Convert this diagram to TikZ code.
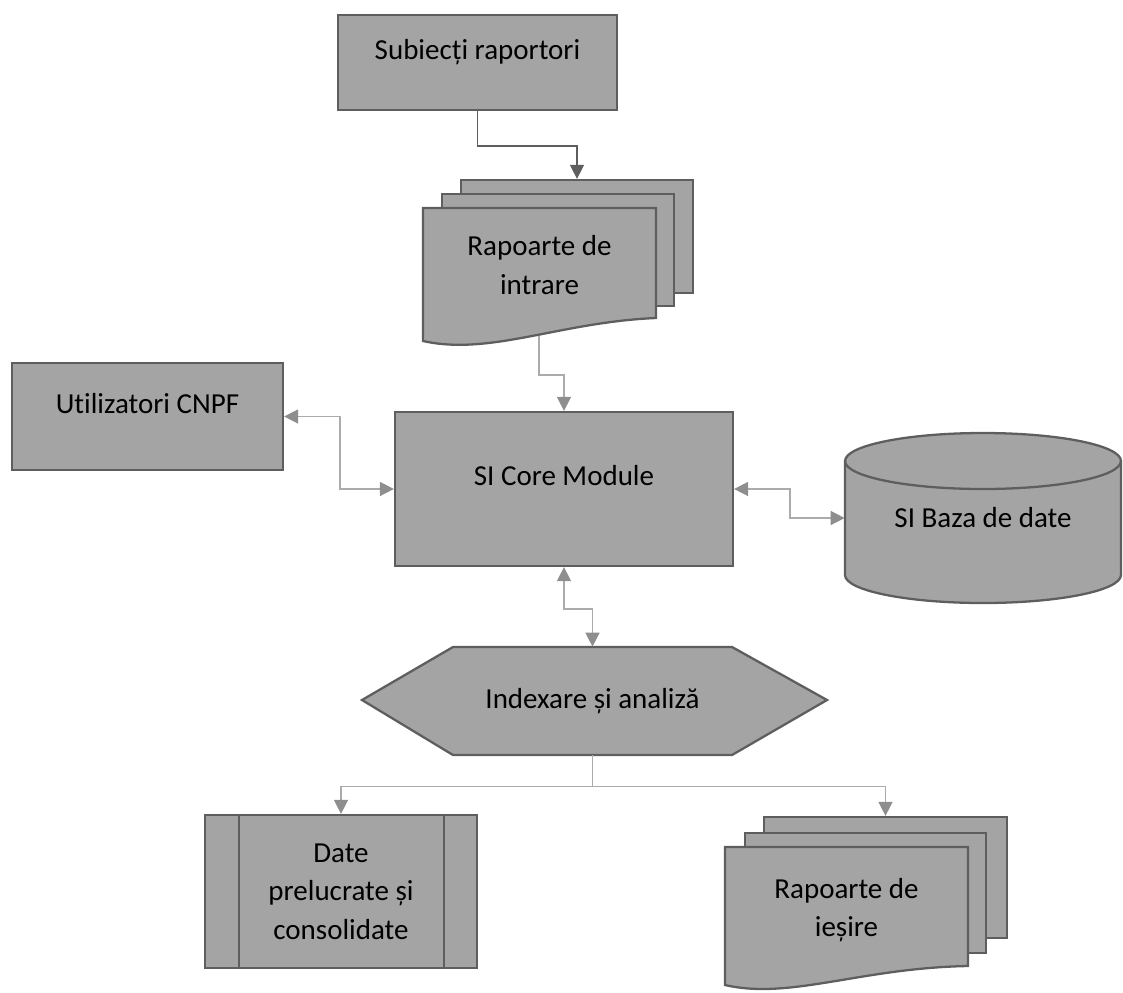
\documentclass[tikz,border=0pt]{standalone}
\usepackage{fontspec}
\setmainfont{Carlito}[Ligatures=NoCommon]
\usetikzlibrary{arrows.meta}
\definecolor{boxfill}{HTML}{A4A4A4}
\definecolor{boxline}{HTML}{5E5E5E}
\definecolor{linegray}{HTML}{ABABAB}
\definecolor{tipgray}{HTML}{8E8E8E}

\begin{document}
\begin{tikzpicture}[x=0.02cm,y=-0.02cm,
	main node/.style={draw=boxline,fill=boxfill,line width=1.3pt,inner sep=0pt,align=center,font=\fontsize{16.5}{22}\selectfont},
	text node/.style={inner sep=0pt,align=center,font=\fontsize{16.5}{22}\selectfont},
	doc page/.style={draw=boxline,fill=boxfill,line width=1.3pt,inner sep=0pt},
	doc shape/.style={draw=boxline,fill=boxfill,line width=1.3pt},
	link/.style={draw=linegray,line width=0.8pt,-{Triangle[length=8pt,width=8pt,color=tipgray]}},
	link both/.style={draw=linegray,line width=0.8pt,{Triangle[length=8pt,width=8pt,color=tipgray]}-{Triangle[length=8pt,width=8pt,color=tipgray]}},
	link dark/.style={draw=boxline,line width=0.8pt,-{Triangle[length=8pt,width=8pt,color=boxline]}}]
				
				\useasboundingbox (0,0) rectangle (1123,992);
				
				\node[main node,minimum width=5.58cm,minimum height=1.9cm,text depth=15pt] (subiecti) at (477.5,62.5) {Subiecți raportori};
				
				\node[doc page,minimum width=4.64cm,minimum height=2.26cm] (intrare3) at (577,236.5) {};
				\node[doc page,minimum width=4.64cm,minimum height=2.24cm] (intrare2) at (558,250) {};
				\filldraw[doc shape] (423,208) -- (656,208) -- (656,318) .. controls (560,322) and (490,356) .. (423,341) -- cycle;
				\node[text node,minimum width=4.66cm,minimum height=2.28cm] (intrare) at (539.5,265) {Rapoarte de\\intrare};
				\coordinate (intrare out) at (539,336);
				
				\node[main node,minimum width=5.42cm,minimum height=2.14cm,text depth=15pt] (utilizatori) at (147.5,416.5) {Utilizatori CNPF};
				\node[main node,minimum width=6.76cm,minimum height=3.08cm,text depth=15.5pt] (core) at (564,489) {SI Core Module};
				
				\filldraw[doc shape] (845,461) -- (845,575) arc[start angle=180,end angle=360,x radius=2.76cm,y radius=0.56cm] -- (1121,461) arc[start angle=0,end angle=180,x radius=2.76cm,y radius=0.56cm] -- cycle;
				\draw[boxline,line width=1.3pt] (845,461) arc[start angle=180,end angle=360,x radius=2.76cm,y radius=0.56cm];
				\node[text node,minimum width=5.52cm,minimum height=2.28cm] (bazadate) at (983,518) {SI Baza de date};
				
				\filldraw[doc shape] (362,700) -- (453,647) -- (732,647) -- (827,700) -- (732,755) -- (453,755) -- cycle;
				\node[text node,minimum width=5.58cm,minimum height=2.16cm] (indexare) at (592.5,701) {Indexare și analiză};
				
				\node[main node,minimum width=5.44cm,minimum height=3.06cm] (date) at (341,891.5) {Date\\prelucrate și\\consolidate};
				\draw[boxline,line width=1.3pt] ([xshift=0.7cm]date.north west) -- ([xshift=0.7cm]date.south west);
				\draw[boxline,line width=1.3pt] ([xshift=-0.68cm]date.north east) -- ([xshift=-0.68cm]date.south east);
				
				\node[doc page,minimum width=4.86cm,minimum height=2.42cm] (iesire3) at (885.5,877.5) {};
				\node[doc page,minimum width=4.82cm,minimum height=2.4cm] (iesire2) at (865.5,893) {};
				\filldraw[doc shape] (725,847) -- (968,847) -- (968,966) .. controls (860,968) and (790,1000) .. (725,985) -- cycle;
				\node[text node,minimum width=4.86cm,minimum height=2.4cm] (iesire) at (846.5,910) {Rapoarte de\\ieșire};
				
				\draw[link dark] (subiecti.south) -- ++(0,35) -| (intrare3.north);
				\draw[link] (intrare out) -- ++(0,39) -| (core.north);
				\draw[link both] (utilizatori.east) -- ++(56,0) |- (core.west);
				\draw[link both] (core.east) -- ++(56,0) |- (bazadate.west);
				\draw[link both] (core.south) -- ++(0,42) -| (indexare.north);
				\draw[link] (indexare.south) -- ++(0,31) -| (date.north);
				\draw[link] (indexare.south) -- ++(0,31) -| (iesire3.north);
				
				\end{tikzpicture}
\end{document}
